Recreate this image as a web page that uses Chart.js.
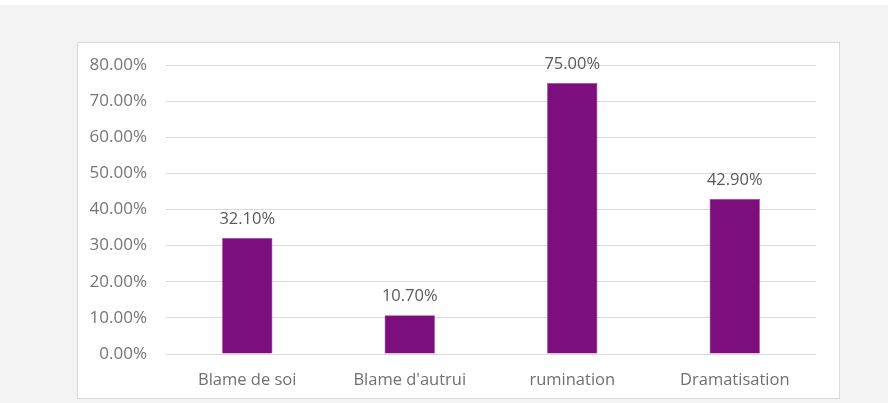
<!DOCTYPE html>
<html>
<head>
<meta charset="utf-8">
<script src="https://cdn.jsdelivr.net/npm/chart.js@4"></script>
<style>
  html, body { margin: 0; padding: 0; }
  body {
    width: 888px; height: 403px; overflow: hidden;
    background: #f3f3f3;
    border-top: 5px solid #ffffff;
    box-sizing: border-box;
    position: relative;
  }
  .box {
    position: absolute;
    left: 77px; top: 37px;
    width: 763px; height: 357px;
    background: #ffffff;
    border: 1px solid #d9d9d9;
    box-sizing: border-box;
  }
  .box canvas { display: block; }
</style>
</head>
<body>
<div class="box"><canvas id="chart" width="761" height="355"></canvas></div>
<script>
const categories = ['Blame de soi', "Blame d'autrui", 'rumination', 'Dramatisation'];
const values = [32.1, 10.7, 75.0, 42.9];
const yTicks = [0, 10, 20, 30, 40, 50, 60, 70, 80];

const fontFamily = '"Open Sans", "Noto Sans", sans-serif';

// étiquettes de valeur au-dessus des barres
const valueLabels = {
  id: 'valueLabels',
  afterDatasetsDraw(chart) {
    const ctx = chart.ctx;
    ctx.save();
    ctx.font = '16.5px ' + fontFamily;
    ctx.fillStyle = '#595959';
    ctx.textAlign = 'center';
    ctx.textBaseline = 'middle';
    chart.getDatasetMeta(0).data.forEach((bar, i) => {
      ctx.fillText(values[i].toFixed(2) + '%', bar.x, bar.y - 19);
    });
    ctx.restore();
  }
};

new Chart(document.getElementById('chart'), {
  type: 'bar',
  data: {
    labels: categories,
    datasets: [{
      data: values,
      backgroundColor: '#7d0e7d',
      borderColor: '#a23ca2',
      borderWidth: 0.6,
      categoryPercentage: 1,
      barPercentage: 0.31
    }]
  },
  options: {
    responsive: false,
    animation: false,
    layout: { padding: { top: 22, right: 23, bottom: 0, left: 0 } },
    plugins: { legend: { display: false }, tooltip: { enabled: false } },
    scales: {
      x: {
        grid: { display: false, drawTicks: false },
        border: { display: false },
        ticks: { color: '#707070', padding: 16, font: { family: fontFamily, size: 16.5 } },
        afterFit: s => { s.height = 44; s.paddingLeft = 0; s.paddingRight = 0; }
      },
      y: {
        min: 0,
        max: 80,
        afterBuildTicks: s => { s.ticks = yTicks.map(v => ({ value: v })); },
        grid: { color: '#d9d9d9', lineWidth: 1, drawTicks: false },
        border: { display: false },
        ticks: {
          color: '#757575',
          padding: 19,
          font: { family: fontFamily, size: 17 },
          callback: v => v.toFixed(2) + '%'
        },
        afterFit: s => { s.width = 88; s.paddingTop = 0; s.paddingBottom = 0; }
      }
    }
  },
  plugins: [valueLabels]
});
</script>
</body>
</html>
